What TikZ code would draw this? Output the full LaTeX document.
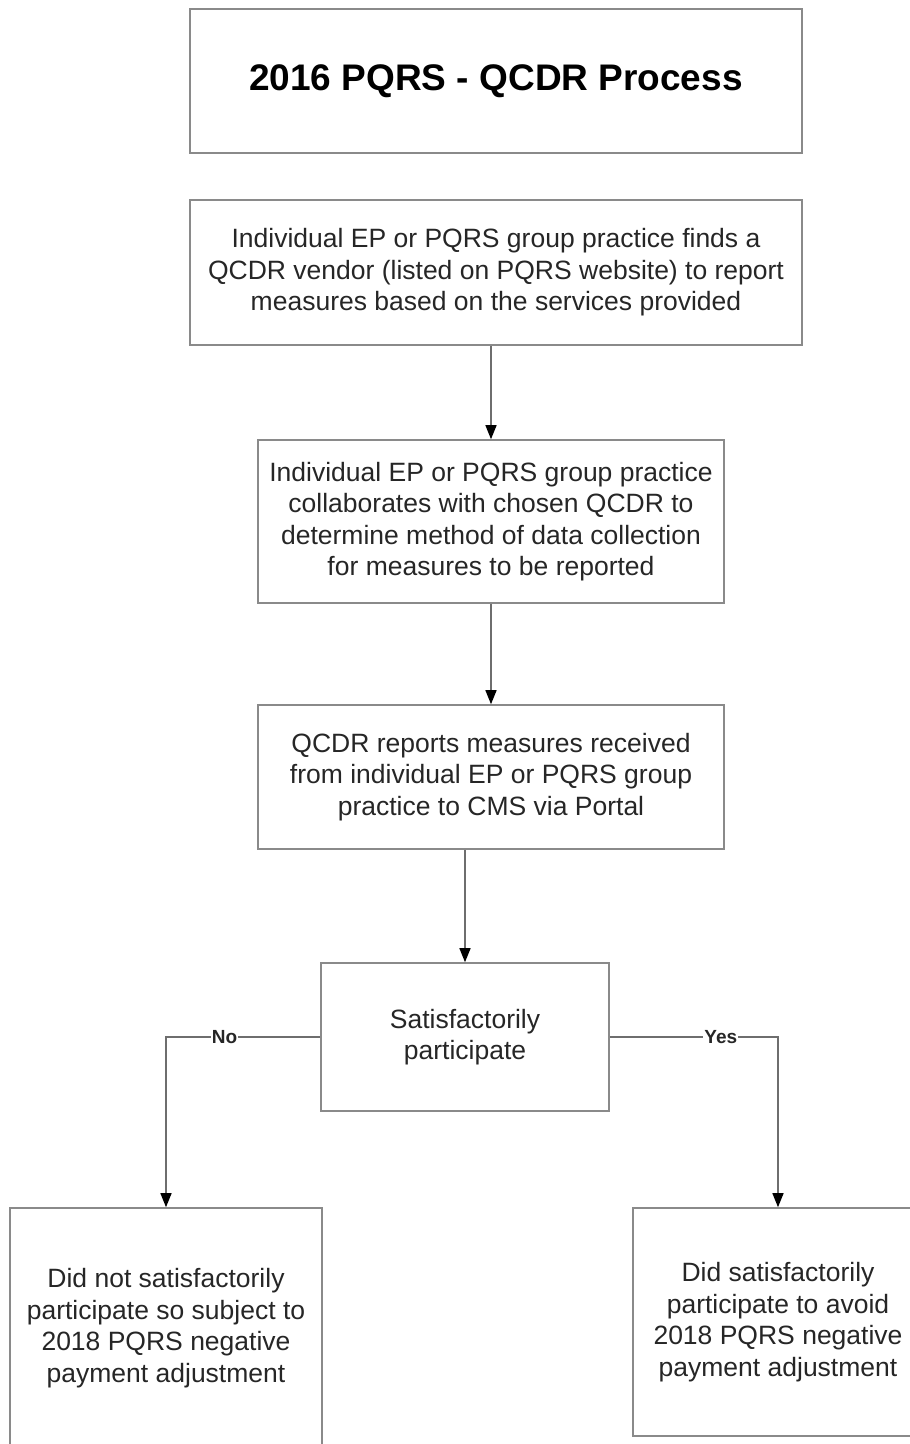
\documentclass[tikz,border=0pt]{standalone}
\usepackage{fontspec}
\setmainfont{Liberation Sans}
\usepackage{tikz}
\usetikzlibrary{arrows.meta}
\definecolor{boxgray}{HTML}{8A8A8A}
\definecolor{linegray}{HTML}{6E6E6E}
\definecolor{textgray}{HTML}{262626}

\begin{document}
\begin{tikzpicture}[x=1pt,y=-1pt,
    box/.style={draw=boxgray,line width=1.6pt,align=center,text=textgray,inner sep=0pt,
      font=\fontsize{26.5}{31.5}\selectfont},
    arr/.style={draw=linegray,line width=1.3pt,-{Stealth[length=14pt,width=11pt,inset=0pt,black]}},
    lbl/.style={fill=white,inner sep=1pt,text=textgray,font=\bfseries\fontsize{19}{21}\selectfont}]
  \useasboundingbox (0,0) rectangle (910,1444);
  \clip (0,0) rectangle (910,1444);
  % the steps, top to bottom
  \node[box,minimum width=612pt,minimum height=144pt,text=black,
    font=\bfseries\fontsize{37}{40}\selectfont] (title) at (496,81) {2016 PQRS - QCDR Process};
  \node[box,minimum width=612pt,minimum height=145pt] (find) at (496,272.5)
    {Individual EP or PQRS group practice finds a\\QCDR vendor (listed on PQRS website) to report\\measures based on the services provided};
  \node[box,minimum width=466pt,minimum height=163pt] (collab) at (491,521.5)
    {Individual EP or PQRS group practice\\collaborates with chosen QCDR to\\determine method of data collection\\for measures to be reported};
  \node[box,minimum width=466pt,minimum height=144pt] (report) at (491,777)
    {QCDR reports measures received\\from individual EP or PQRS group\\practice to CMS via Portal};
  \node[box,minimum width=288pt,minimum height=148pt] (decide) at (465,1037)
    {Satisfactorily\\participate};
  % the two outcomes
  \node[box,minimum width=312pt,minimum height=240pt] (nopart) at (166,1328)
    {Did not satisfactorily\\participate so subject to\\2018 PQRS negative\\payment adjustment};
  \node[box,minimum width=290pt,minimum height=228pt] (yespart) at (778,1322)
    {Did satisfactorily\\participate to avoid\\2018 PQRS negative\\payment adjustment};
  \draw[arr] (find.south -| collab.north) -- (collab.north);
  \draw[arr] (collab.south) -- (report.north);
  \draw[arr] (report.south -| decide.north) -- (decide.north);
  \draw[arr] (decide.west) -| node[lbl,pos=0.31] {No} (nopart.north);
  \draw[arr] (decide.east) -| node[lbl,pos=0.33] {Yes} (yespart.north);
\end{tikzpicture}
\end{document}
